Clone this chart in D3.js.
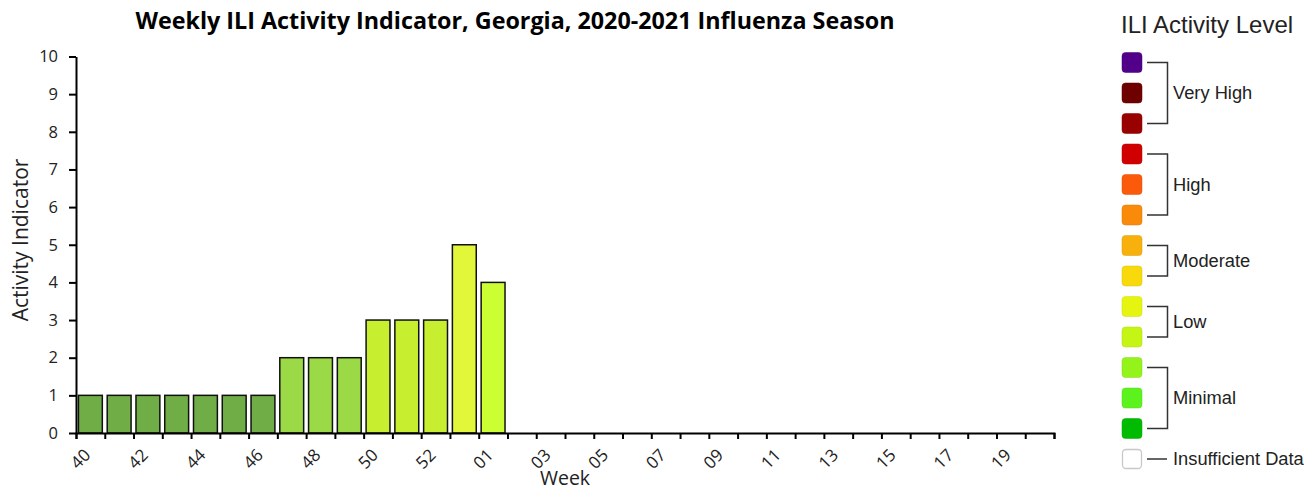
<!DOCTYPE html>
<html>
<head>
<meta charset="utf-8">
<script src="https://cdn.jsdelivr.net/npm/d3@7"></script>
<style>
  html, body { margin: 0; padding: 0; background: #fff; }
  svg { display: block; }
</style>
</head>
<body>
<svg id="chart" width="1307" height="491"></svg>
<script>
// ---------------- data ----------------
const weeks = ["40","41","42","43","44","45","46","47","48","49","50","51","52","53",
               "01","02","03","04","05","06","07","08","09","10","11","12","13","14",
               "15","16","17","18","19","20"];
const activity = [1,1,1,1,1,1,1,2,2,2,3,3,3,5,4];
const barColors = {1: "#70AD47", 2: "#9BD946", 3: "#C8EF2F", 4: "#CCFF33", 5: "#E3F73A"};
const yTicks = [0,1,2,3,4,5,6,7,8,9,10];
const xLabelWeeks = weeks.filter((d, i) => i % 2 === 0);

const legendColors = ["#52008A","#6E0000","#990000","#D00000","#FA5A0A","#FA8A0A",
                      "#F8B00C","#F7D90C","#E6F50F","#C5F514","#93F31A","#5CF21E","#00BB00"];
const legendGroups = [
  {label: "Very High", from: 0, to: 2},
  {label: "High", from: 3, to: 5},
  {label: "Moderate", from: 6, to: 7},
  {label: "Low", from: 8, to: 9},
  {label: "Minimal", from: 10, to: 12}
];
const insufficientLabel = "Insufficient Data";

// ---------------- layout ----------------
(function () {
const svg = d3.select("#chart");
const mLeft = 76, mRight = 1054, mTop = 56.5, mBottom = 433;
const chartFont = "'Open Sans', 'Noto Sans', sans-serif";

const x = d3.scaleBand().domain(weeks).range([mLeft, mRight]).paddingInner(0.17).paddingOuter(0.085);
const xi = d3.scaleLinear().domain([0, weeks.length]).range([mLeft, mRight]);
const y = d3.scaleLinear().domain([0, 10]).range([mBottom, mTop]);

// title
svg.append("text")
  .attr("x", 515).attr("y", 29)
  .attr("text-anchor", "middle")
  .attr("font-family", chartFont)
  .attr("font-weight", "bold")
  .attr("font-size", 23.3)
  .attr("fill", "#000")
  .text("Weekly ILI Activity Indicator, Georgia, 2020-2021 Influenza Season");

// bars
const data = activity.map((v, i) => ({week: weeks[i], value: v}));
svg.append("g").selectAll("rect").data(data).join("rect")
  .attr("x", d => x(d.week))
  .attr("y", d => y(d.value))
  .attr("width", x.bandwidth())
  .attr("height", d => y(0) - y(d.value))
  .attr("fill", d => barColors[d.value])
  .attr("stroke", "#111")
  .attr("stroke-width", 1.5);

// y axis
const yAxis = svg.append("g")
  .attr("transform", `translate(${mLeft},0)`)
  .call(d3.axisLeft(y).tickValues(yTicks).tickSize(7).tickPadding(11).tickSizeOuter(0));
yAxis.selectAll("path, line").attr("stroke", "#000").attr("stroke-width", 2);
yAxis.selectAll("text").attr("font-family", chartFont).attr("font-size", 16.5).attr("fill", "#222");

// x axis: tick marks at week boundaries
const xTickAxis = svg.append("g")
  .attr("transform", `translate(0,${mBottom})`)
  .call(d3.axisBottom(xi).tickValues(d3.range(weeks.length + 1)).tickSize(6).tickSizeOuter(6).tickFormat(""));
xTickAxis.selectAll("path, line").attr("stroke", "#000").attr("stroke-width", 2);

// x axis labels
const xLabelAxis = svg.append("g")
  .attr("transform", `translate(0,${mBottom})`)
  .call(d3.axisBottom(x).tickValues(xLabelWeeks).tickSize(0));
xLabelAxis.select(".domain").remove();
xLabelAxis.selectAll("text")
  .attr("font-family", chartFont).attr("font-size", 17).attr("fill", "#222")
  .attr("x", 0).attr("y", 0).attr("dy", "0.35em")
  .attr("text-anchor", "end")
  .attr("transform", "translate(-3,19) rotate(-45)");

// axis titles
svg.append("text")
  .attr("transform", `translate(28,240) rotate(-90)`)
  .attr("text-anchor", "middle")
  .attr("font-family", chartFont).attr("font-size", 21).attr("fill", "#222")
  .text("Activity Indicator");
svg.append("text")
  .attr("x", (mLeft + mRight) / 2).attr("y", 484.5)
  .attr("text-anchor", "middle")
  .attr("font-family", chartFont).attr("font-size", 19.5).attr("fill", "#222")
  .text("Week");

// ---------------- legend ----------------
const legendFont = "'Liberation Sans', Arial, sans-serif";
const lg = svg.append("g");
lg.append("text")
  .attr("x", 1121).attr("y", 33)
  .attr("font-family", legendFont).attr("font-size", 24).attr("fill", "#222")
  .text("ILI Activity Level");

const ly = d3.scaleLinear().domain([0, 13]).range([62.5, 459]);
const swatchData = legendColors.map((c, i) => ({color: c, i}));
lg.selectAll("rect.sw").data(swatchData).join("rect")
  .attr("class", "sw")
  .attr("x", 1122).attr("y", d => ly(d.i) - 10)
  .attr("width", 20).attr("height", 20).attr("rx", 3.5)
  .attr("fill", d => d.color)
  .attr("stroke", d => d3.color(d.color).darker(0.3))
  .attr("stroke-opacity", 0.5)
  .attr("stroke-width", 1);
lg.append("rect")
  .attr("x", 1122.5).attr("y", ly(13) - 9.5)
  .attr("width", 19).attr("height", 19).attr("rx", 3.5)
  .attr("fill", "#fff").attr("stroke", "#c8c8c8").attr("stroke-width", 1.3);

lg.selectAll("path.br").data(legendGroups).join("path")
  .attr("class", "br")
  .attr("d", d => `M1147,${ly(d.from)}H1167.5V${ly(d.to)}H1147`)
  .attr("fill", "none").attr("stroke", "#333").attr("stroke-width", 1.5);
lg.selectAll("text.gl").data(legendGroups).join("text")
  .attr("class", "gl")
  .attr("x", 1173).attr("y", d => (ly(d.from) + ly(d.to)) / 2)
  .attr("dy", "0.35em")
  .attr("font-family", legendFont).attr("font-size", 18.3).attr("fill", "#222")
  .text(d => d.label);
lg.append("line")
  .attr("x1", 1147).attr("x2", 1167).attr("y1", ly(13)).attr("y2", ly(13))
  .attr("stroke", "#333").attr("stroke-width", 1.5);
lg.append("text")
  .attr("x", 1173).attr("y", ly(13)).attr("dy", "0.35em")
  .attr("font-family", legendFont).attr("font-size", 18.3).attr("fill", "#222")
  .text(insufficientLabel);
})();
</script>
</body>
</html>
